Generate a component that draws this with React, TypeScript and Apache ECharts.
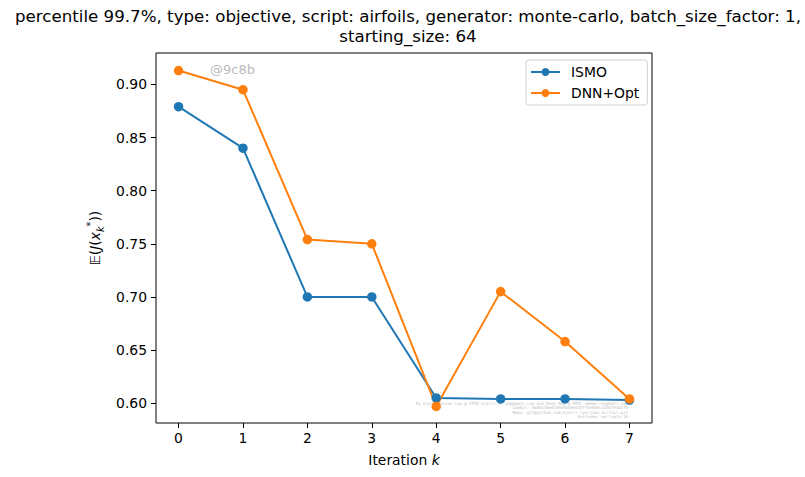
import React, { useEffect, useRef } from 'react';
import * as echarts from 'echarts';

const iterations = [0, 1, 2, 3, 4, 5, 6, 7];
const ismo = [0.879, 0.84, 0.7, 0.7, 0.605, 0.604, 0.604, 0.603];
const dnnOpt = [0.913, 0.895, 0.754, 0.75, 0.597, 0.705, 0.658, 0.604];
const yTicks = [0.6, 0.65, 0.7, 0.75, 0.8, 0.85, 0.9];

const titleText =
  'percentile 99.7%, type: objective, script: airfoils, generator: monte-carlo, batch_size_factor: 1,\nstarting_size: 64';

// tiny provenance text in the lower right of the plot
const footerLines = [
  'By Kjetil Olsen Lye @ ETHZ kjetil.o.lye@gmail.com and Deep Ray @ EPFL <deep.ray@epfl.ch>',
  'Commit: 5a8b1f6e8f09d9b4e0d2b7f6e5a9c1d3b7e4a2f0',
  'Repo: git@github.com:kjetil-lye/ismo_airfoil.git',
  'Hostname: eu-login-10',
];

const FONT = 'DejaVu Sans';

const App: React.FC = () => {
  const chartRef = useRef<HTMLDivElement>(null);

  useEffect(() => {
    if (!chartRef.current) return;
    const chart = echarts.init(chartRef.current, undefined, { renderer: 'svg' });

    const option = {
      animation: false,
      backgroundColor: '#fff',
      textStyle: { fontFamily: FONT },
      title: {
        text: titleText,
        left: 403,
        top: 1,
        textAlign: 'center',
        textStyle: { fontFamily: FONT, fontSize: 16.67, fontWeight: 'normal', color: '#000', lineHeight: 20 },
      },
      legend: {
        orient: 'vertical',
        left: 526,
        top: 60,
        data: ['ISMO', 'DNN+Opt'],
        itemWidth: 29,
        itemHeight: 10,
        itemGap: 7,
        padding: [5, 8, 5, 4],
        borderColor: '#d0d0d0',
        borderWidth: 1,
        borderRadius: 3,
        backgroundColor: 'rgba(255,255,255,0.8)',
        textStyle: { fontFamily: FONT, fontSize: 13.9, color: '#000', padding: [0, 0, 0, 6] },
      },
      grid: {
        left: 156,
        right: 153,
        top: 53,
        bottom: 54,
        show: true,
        borderColor: '#000',
        borderWidth: 1,
        backgroundColor: 'transparent',
      },
      xAxis: {
        type: 'value',
        min: -0.35,
        max: 7.35,
        splitLine: { show: false },
        axisLine: { show: false, onZero: false },
        axisTick: { show: true, length: 5, lineStyle: { color: '#000' }, customValues: iterations },
        axisLabel: {
          customValues: iterations,
          margin: 8,
          fontFamily: FONT,
          fontSize: 13.9,
          color: '#000',
          formatter: (v: number) => String(Math.round(v)),
        },
        name: 'Iteration {i|k}',
        nameLocation: 'middle',
        nameGap: 30,
        nameTextStyle: {
          fontFamily: FONT,
          fontSize: 13.9,
          color: '#000',
          rich: { i: { fontFamily: FONT, fontSize: 13.9, fontStyle: 'italic', color: '#000' } },
        },
      },
      yAxis: {
        type: 'value',
        min: 0.5814,
        max: 0.9295,
        splitLine: { show: false },
        axisLine: { show: false, onZero: false },
        axisTick: { show: true, length: 5, lineStyle: { color: '#000' }, customValues: yTicks },
        axisLabel: {
          customValues: yTicks,
          margin: 9,
          fontFamily: FONT,
          fontSize: 13.9,
          color: '#000',
          formatter: (v: number) => v.toFixed(2),
        },
        name: '𝔼({it|J}({it|x}{sub|k}{sup|*}))',
        nameLocation: 'middle',
        nameGap: 50,
        nameRotate: 90,
        nameTextStyle: {
          fontFamily: FONT,
          fontSize: 13.9,
          color: '#000',
          lineHeight: 20,
          rich: {
            it: { fontFamily: FONT, fontSize: 13.9, fontStyle: 'italic', color: '#000', lineHeight: 20 },
            sub: { fontFamily: FONT, fontSize: 9.7, fontStyle: 'italic', color: '#000', verticalAlign: 'bottom', lineHeight: 20 },
            sup: { fontFamily: FONT, fontSize: 9.7, color: '#000', verticalAlign: 'top', lineHeight: 20 },
          },
        },
      },
      series: [
        {
          name: 'ISMO',
          type: 'line',
          data: iterations.map((x, i) => [x, ismo[i]]),
          symbol: 'circle',
          symbolSize: 9.5,
          color: '#1f77b4',
          lineStyle: { width: 2, color: '#1f77b4' },
          itemStyle: { color: '#1f77b4' },
        },
        {
          name: 'DNN+Opt',
          type: 'line',
          data: iterations.map((x, i) => [x, dnnOpt[i]]),
          symbol: 'circle',
          symbolSize: 9.5,
          color: '#ff7f0e',
          lineStyle: { width: 2, color: '#ff7f0e' },
          itemStyle: { color: '#ff7f0e' },
        },
      ],
      graphic: [
        {
          type: 'text',
          left: 210,
          top: 63,
          style: { text: '@9c8b', fontFamily: FONT, fontSize: 13, fill: '#bbbbbb' },
        },
        ...footerLines.map((line, i) => ({
          type: 'text',
          x: 628,
          y: 403 + i * 4.5,
          style: {
            text: line,
            fontFamily: 'DejaVu Sans Mono',
            fontSize: 4,
            fill: '#bdbdbd',
            align: 'right',
            verticalAlign: 'middle',
          },
        })),
      ],
    };

    chart.setOption(option as any);

    return () => {
      chart.dispose();
    };
  }, []);

  return (
    <div
      ref={chartRef}
      style={{ position: 'fixed', left: 0, top: 0, width: '805px', height: '477px' }}
    />
  );
};

export default App;
